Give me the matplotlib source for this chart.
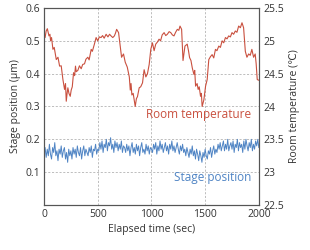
import matplotlib
matplotlib.use("Agg")
import matplotlib.pyplot as plt
import numpy as np

plt.rcParams['font.family'] = ['Open Sans', 'DejaVu Sans']

# room temperature trace: (elapsed sec, degC)
temp_points = [
    (0, 25.1), (10, 25.05), (20, 25.15), (31, 25.185), (46, 25.075), (55, 25.1),
    (61, 25.0), (70, 25.05), (83, 24.87), (95, 24.9), (114, 24.715), (130, 24.75),
    (145, 24.615), (160, 24.62), (176, 24.41), (191, 24.26), (200, 24.35),
    (207, 24.08), (215, 24.2), (222, 24.285), (232, 24.2), (244, 24.155),
    (253, 24.25), (263, 24.3), (275, 24.515), (285, 24.47), (293, 24.615),
    (300, 24.53), (315, 24.55), (330, 24.62), (346, 24.575), (360, 24.64),
    (377, 24.65), (390, 24.72), (408, 24.75), (420, 24.71), (439, 24.87),
    (450, 24.84), (469, 24.95), (485, 25.05), (500, 25.0), (515, 25.06),
    (531, 25.05), (545, 25.08), (560, 25.04), (578, 25.1), (595, 25.06),
    (610, 25.1), (624, 25.075), (640, 25.05), (655, 25.075), (666, 25.12),
    (676, 25.175), (694, 25.125), (707, 24.95), (722, 24.75), (740, 24.8),
    (756, 24.675), (775, 24.6), (794, 24.45), (803, 24.25), (810, 24.35),
    (818, 24.175), (830, 24.2), (840, 24.1), (849, 24.0), (860, 24.12),
    (870, 24.15), (886, 24.285), (900, 24.3), (917, 24.36), (932, 24.56),
    (948, 24.45), (963, 24.5), (979, 24.64), (994, 24.87), (1009, 24.97),
    (1025, 24.85), (1040, 24.95), (1055, 24.98), (1071, 25.025), (1085, 25.0),
    (1100, 25.09), (1118, 25.125), (1133, 25.08), (1148, 25.1), (1165, 25.14),
    (1180, 25.125), (1195, 25.09), (1210, 25.075), (1225, 25.13), (1241, 25.175),
    (1255, 25.16), (1266, 25.225), (1281, 25.175), (1294, 24.7), (1312, 24.92),
    (1333, 24.95), (1345, 24.85), (1355, 24.745), (1368, 24.7), (1380, 24.59),
    (1395, 24.49), (1403, 24.55), (1411, 24.31), (1425, 24.35), (1435, 24.26),
    (1445, 24.3), (1457, 24.155), (1465, 24.2), (1472, 24.0), (1480, 24.05),
    (1488, 24.1), (1504, 24.31), (1519, 24.41), (1534, 24.715), (1550, 24.76),
    (1565, 24.79), (1580, 24.74), (1596, 24.87), (1610, 24.85), (1627, 24.92),
    (1642, 24.9), (1658, 25.0), (1673, 24.97), (1689, 25.05), (1704, 25.03),
    (1719, 25.075), (1735, 25.06), (1750, 25.125), (1765, 25.1), (1781, 25.15),
    (1796, 25.13), (1812, 25.225), (1828, 25.2), (1843, 25.275), (1858, 25.2),
    (1874, 24.84), (1889, 24.75), (1905, 24.8), (1920, 24.78), (1935, 24.87),
    (1951, 24.75), (1966, 24.8), (1975, 24.65), (1985, 24.41), (2000, 24.4),
]
temp_t = [p[0] for p in temp_points]
temp_c = [p[1] for p in temp_points]

# stage position (um), one sample every 10 sec from 0 to 2000
stage = [
    0.16, 0.175, 0.145, 0.17, 0.15, 0.185, 0.155, 0.14, 0.175, 0.16, 0.19,
    0.15, 0.165, 0.135, 0.17, 0.155, 0.18, 0.145, 0.165, 0.175, 0.14, 0.16,
    0.13, 0.17, 0.15, 0.165, 0.14, 0.175, 0.155, 0.17, 0.145, 0.18, 0.16,
    0.15, 0.175, 0.14, 0.165, 0.18, 0.15, 0.17, 0.16,
    0.15, 0.175, 0.16, 0.18, 0.145, 0.17, 0.165, 0.185, 0.155, 0.17,
    0.165, 0.19, 0.17, 0.195, 0.16, 0.185, 0.175, 0.2, 0.165, 0.19, 0.18,
    0.205, 0.17, 0.185, 0.16, 0.195, 0.175, 0.19, 0.165, 0.185, 0.17, 0.195,
    0.16, 0.18, 0.175,
    0.16, 0.185, 0.165, 0.18, 0.15, 0.175, 0.19, 0.16, 0.175, 0.155, 0.185,
    0.165, 0.18, 0.15, 0.175, 0.19, 0.16, 0.17, 0.155, 0.185, 0.165, 0.18,
    0.155, 0.175, 0.17,
    0.16, 0.185, 0.17, 0.19, 0.155, 0.18, 0.165, 0.195, 0.17, 0.185,
    0.16, 0.175, 0.19, 0.165, 0.18, 0.155, 0.185, 0.17, 0.195, 0.165,
    0.18, 0.16, 0.175, 0.19, 0.17, 0.155, 0.18, 0.165, 0.185, 0.16,
    0.17, 0.15, 0.175, 0.16, 0.145, 0.17, 0.155, 0.18, 0.15, 0.165,
    0.14, 0.17, 0.155, 0.135, 0.165, 0.15, 0.13, 0.16, 0.145, 0.17,
    0.15, 0.14, 0.165, 0.155, 0.175, 0.145, 0.165, 0.18, 0.155, 0.17,
    0.16, 0.185, 0.17, 0.19, 0.165, 0.18, 0.195, 0.165, 0.185, 0.17,
    0.2, 0.165, 0.18, 0.19, 0.17, 0.195, 0.16, 0.185, 0.175, 0.2,
    0.165, 0.19, 0.175, 0.185, 0.16, 0.195, 0.17, 0.2, 0.18, 0.165,
    0.19, 0.175, 0.2, 0.165, 0.185, 0.17, 0.195, 0.18, 0.2, 0.175,
]
stage_t = np.linspace(0, 2000, len(stage))

red = '#c9503f'
blue = '#4f84c4'
txt = '#333333'

fig = plt.figure(figsize=(3.1, 2.5), dpi=100)
ax = fig.add_axes([0.142, 0.18, 0.693, 0.788])
ax2 = ax.twinx()

ax.plot(stage_t, stage, color=blue, lw=0.7)
ax2.plot(temp_t, temp_c, color=red, lw=0.8)

ax.set_xlim(0, 2000)
ax.set_ylim(0, 0.6)
ax2.set_ylim(22.5, 25.5)
ax.set_xticks([0, 500, 1000, 1500, 2000])
ax.set_yticks([0.1, 0.2, 0.3, 0.4, 0.5, 0.6])
ax2.set_yticks([22.5, 23, 23.5, 24, 24.5, 25, 25.5])
ax2.set_yticklabels(['22.5', '23', '23.5', '24', '24.5', '25', '25.5'])

for a in (ax, ax2):
    a.tick_params(length=0, labelsize=7.5, labelcolor=txt, pad=3)
    for s in a.spines.values():
        s.set_color('#555555')
        s.set_linewidth(0.8)

ax.grid(True, ls='--', color='#b3b3b3', lw=0.6, dashes=(2.5, 2))

ax.set_xlabel('Elapsed time (sec)', fontsize=7.5, color=txt, labelpad=3)
ax.set_ylabel('Stage position (μm)', fontsize=7.5, color=txt, labelpad=3)
ax2.set_ylabel('Room temperature (℃)', fontsize=7.5, color=txt, labelpad=4)

ax.text(0.965, 0.457, 'Room temperature', color=red, fontsize=8.5,
        transform=ax.transAxes, ha='right', va='center')
ax.text(0.965, 0.142, 'Stage position', color=blue, fontsize=8.5,
        transform=ax.transAxes, ha='right', va='center')

fig.savefig('out.png', dpi=100)
